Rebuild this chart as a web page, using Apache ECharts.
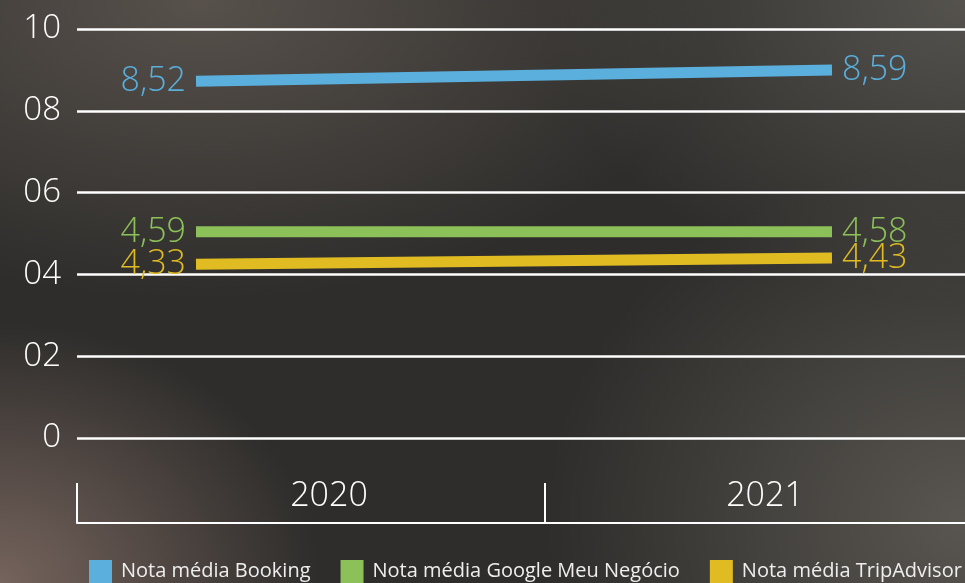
<!DOCTYPE html>
<html>
<head>
<meta charset="utf-8">
<script src="https://cdn.jsdelivr.net/npm/echarts@6/dist/echarts.min.js"></script>
<style>
html,body{margin:0;padding:0;width:965px;height:583px;overflow:hidden;}
body{
  background:
    radial-gradient(ellipse 320px 260px at 0px 583px, rgba(125,105,98,0.9), rgba(125,105,98,0) 100%),
    radial-gradient(ellipse 420px 360px at 965px 520px, rgba(100,96,90,0.8), rgba(100,96,90,0) 100%),
    radial-gradient(ellipse 520px 300px at 200px 0px, rgba(98,90,84,0.8), rgba(98,90,84,0) 100%),
    radial-gradient(ellipse 420px 300px at 965px 0px, rgba(95,92,87,0.8), rgba(95,92,87,0) 100%),
    #2e2d2b;
}
#chart{width:965px;height:583px;}
</style>
</head>
<body>
<div id="chart"></div>
<script>
// Categories and tick labels
var years = ['2020', '2021'];
var yTicks = [0, 2, 4, 6, 8, 10];

// Line heights as drawn in the picture (axis units)
var bookingDrawn = [8.72, 9.0];
var googleDrawn = [5.04, 5.04];
var tripDrawn = [4.25, 4.40];

// Printed values next to the line ends
var bookingNotes = ['8,52', '8,59'];
var googleNotes = ['4,59', '4,58'];
var tripNotes = ['4,33', '4,43'];

var seriesNames = ['Nota média Booking', 'Nota média Google Meu Negócio', 'Nota média TripAdvisor'];
var colors = ['#5aafdc', '#8cc059', '#e0bc22'];

var FONT = '"Open Sans", "Noto Sans", sans-serif';

function buildData(values, notes, color) {
  return values.map(function (v, i) {
    return {
      value: v,
      label: {
        show: true,
        position: i === 0 ? 'left' : 'right',
        distance: 10,
        formatter: notes[i],
        color: color,
        fontSize: 34,
        fontWeight: 300,
        fontFamily: FONT
      }
    };
  });
}

function lineSeries(name, values, notes, color) {
  return {
    name: name,
    type: 'line',
    xAxisIndex: 1,
    yAxisIndex: 1,
    data: buildData(values, notes, color),
    symbol: 'circle',
    symbolSize: 0,
    showSymbol: true,
    color: color,
    lineStyle: { color: color, width: 11, cap: 'butt' },
    itemStyle: { color: color },
    emphasis: { disabled: true },
    z: 5
  };
}

var chart = echarts.init(document.getElementById('chart'), null, { renderer: 'canvas' });
chart.setOption({
  backgroundColor: 'transparent',
  animation: false,
  textStyle: { fontFamily: FONT },
  grid: [
    { left: 77, right: -48, top: 29, bottom: 145, outerBoundsMode: 'none', containLabel: false },
    { left: 196, right: 133, top: 29, bottom: 145, outerBoundsMode: 'none', containLabel: false },
    { left: 77, right: -48, top: 440, bottom: 60, outerBoundsMode: 'none', containLabel: false }
  ],
  legend: {
    left: 89,
    top: 560,
    padding: 0,
    icon: 'rect',
    itemWidth: 23,
    itemHeight: 23,
    itemGap: 30,
    selectedMode: false,
    textStyle: { color: '#eeeeee', fontSize: 20, fontFamily: FONT, fontWeight: 400, padding: [0, 0, 0, 4] },
    data: seriesNames
  },
  xAxis: [
    {
      type: 'category',
      gridIndex: 0,
      data: years,
      show: false
    },
    {
      type: 'category',
      gridIndex: 1,
      data: years,
      boundaryGap: false,
      show: false
    },
    {
      type: 'category',
      gridIndex: 2,
      data: years,
      boundaryGap: true,
      position: 'bottom',
      axisLine: { show: true, lineStyle: { color: '#ffffff', width: 2 } },
      axisTick: { show: true, inside: true, length: 40, lineStyle: { color: '#ffffff', width: 2 } },
      axisLabel: {
        inside: true,
        margin: 10,
        color: '#ffffff',
        fontSize: 34,
        fontWeight: 300,
        fontFamily: FONT,
        formatter: function (v, i) { return i === 0 ? '{a|' + v + '}' : '{b|' + v + '}'; },
        rich: {
          a: { padding: [0, 0, 0, 36], fontSize: 34, fontWeight: 300, color: '#ffffff', fontFamily: FONT },
          b: { padding: [0, 28, 0, 0], fontSize: 34, fontWeight: 300, color: '#ffffff', fontFamily: FONT }
        }
      },
      splitLine: { show: false }
    }
  ],
  yAxis: [
    {
      type: 'value',
      gridIndex: 0,
      min: 0,
      max: 10,
      interval: 2,
      axisLine: { show: false },
      axisTick: { show: false },
      axisLabel: {
        margin: 16,
        color: '#ffffff',
        fontSize: 33,
        fontWeight: 300,
        fontFamily: FONT,
        formatter: function (v) {
          if (yTicks.indexOf(v) < 0) return '';
          return v === 0 ? '0' : (v < 10 ? '0' + v : String(v));
        }
      },
      splitLine: { show: true, lineStyle: { color: '#ffffff', width: 2.5 } }
    },
    {
      type: 'value',
      gridIndex: 1,
      min: 0,
      max: 10,
      show: false
    },
    {
      type: 'value',
      gridIndex: 2,
      show: false
    }
  ],
  series: [
    lineSeries(seriesNames[0], bookingDrawn, bookingNotes, colors[0]),
    lineSeries(seriesNames[1], googleDrawn, googleNotes, colors[1]),
    lineSeries(seriesNames[2], tripDrawn, tripNotes, colors[2])
  ]
});
</script>
</body>
</html>
